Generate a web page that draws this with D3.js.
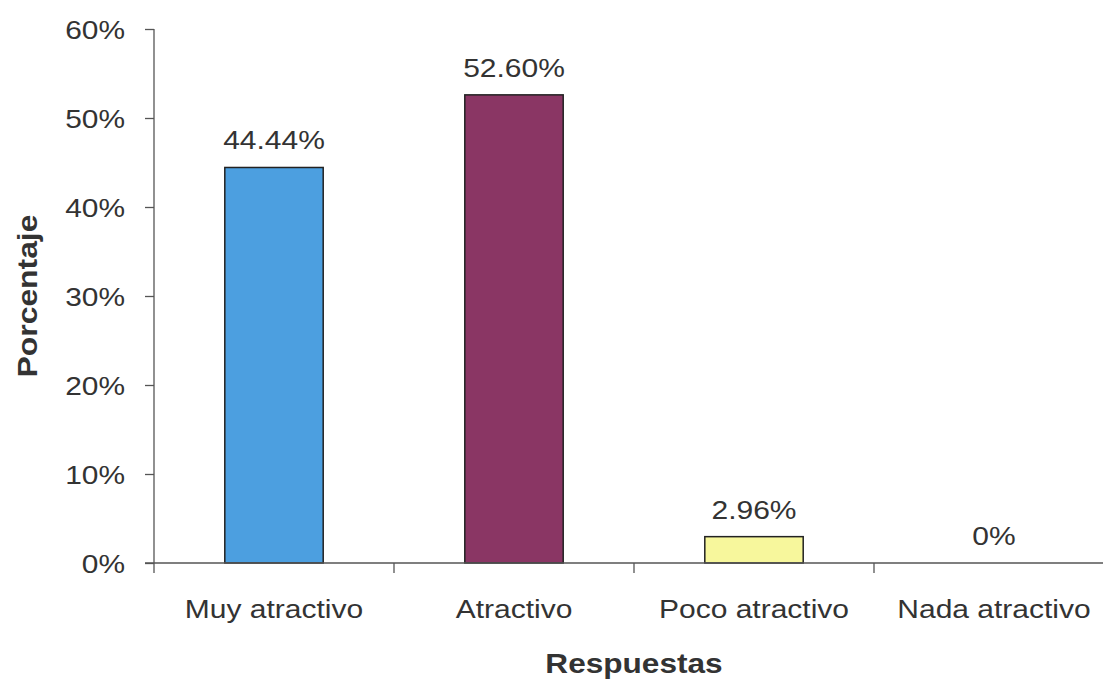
<!DOCTYPE html>
<html>
<head>
<meta charset="utf-8">
<script src="https://cdn.jsdelivr.net/npm/d3@7"></script>
<style>
  html, body { margin: 0; padding: 0; background: #fff; }
  svg { display: block; }
  text { font-family: "Liberation Sans", Arial, sans-serif; fill: #333; }
</style>
</head>
<body>
<svg id="chart" width="1103" height="680"></svg>
<script>
const categories = ["Muy atractivo", "Atractivo", "Poco atractivo", "Nada atractivo"];
const values = [0.4444, 0.5260, 0.0296, 0];
const valueLabels = ["44.44%", "52.60%", "2.96%", "0%"];
const barColors = ["#4c9fe0", "#8a3664", "#f7f79c", "#cccccc"];
const yTicks = [0, 0.1, 0.2, 0.3, 0.4, 0.5, 0.6];
const yTickLabels = ["0%", "10%", "20%", "30%", "40%", "50%", "60%"];
const xTitle = "Respuestas";
const yTitle = "Porcentaje";

(function () {
const svg = d3.select("#chart");
const mLeft = 154, mRight = 1114, mTop = 29, mBottom = 563;
const SX = 1.2; // horizontal text stretch

const y = d3.scaleLinear().domain([0, 0.6]).range([mBottom, mTop]);
const x = d3.scaleBand().domain(categories).range([mLeft, mRight]).padding(0);
const barW = x.bandwidth() * 0.41;

// bars
svg.append("g").selectAll("rect").data(categories).join("rect")
  .attr("x", d => x(d) + (x.bandwidth() - barW) / 2)
  .attr("y", (d, i) => y(values[i]))
  .attr("width", barW)
  .attr("height", (d, i) => y(0) - y(values[i]))
  .attr("fill", (d, i) => barColors[i])
  .attr("stroke", (d, i) => values[i] > 0 ? "#222" : "none")
  .attr("stroke-width", 1.5);

// value labels
svg.append("g").selectAll("text").data(categories).join("text")
  .attr("transform", (d, i) => `translate(${x(d) + x.bandwidth() / 2},${y(values[i]) - 18}) scale(${SX},1)`)
  .attr("text-anchor", "middle")
  .attr("font-size", 25)
  .text((d, i) => valueLabels[i]);

// y axis
const yAxis = svg.append("g").attr("transform", `translate(${mLeft},0)`)
  .call(d3.axisLeft(y).tickValues(yTicks).tickSize(9).tickPadding(0)
    .tickFormat((d, i) => yTickLabels[i]));
yAxis.select(".domain").attr("d", `M0,${mTop}V${mBottom + 10}`).attr("stroke", "#555").attr("stroke-width", 1.3);
yAxis.selectAll(".tick line").attr("stroke", "#555").attr("stroke-width", 1.3);
yAxis.selectAll(".tick text")
  .attr("x", null).attr("dy", null)
  .attr("transform", `translate(-29,9.5) scale(1.15,1)`)
  .attr("text-anchor", "end")
  .attr("font-size", 26)
  .attr("font-family", "Liberation Sans, Arial, sans-serif")
  .attr("fill", "#333");

// x axis
const xAxis = svg.append("g").attr("transform", `translate(0,${mBottom})`)
  .call(d3.axisBottom(x).tickSize(0).tickPadding(0));
xAxis.select(".domain").attr("d", `M${mLeft - 9},0H${mRight}`).attr("stroke", "#555").attr("stroke-width", 1.3);
xAxis.selectAll(".tick text")
  .attr("y", null).attr("dy", null)
  .attr("transform", `translate(0,55) scale(${SX},1)`)
  .attr("text-anchor", "middle")
  .attr("font-size", 25)
  .attr("font-family", "Liberation Sans, Arial, sans-serif")
  .attr("fill", "#333");
// category boundary ticks
const bounds = categories.slice(1).map(c => x(c));
xAxis.append("g").selectAll("line").data(bounds).join("line")
  .attr("x1", d => d).attr("x2", d => d).attr("y1", 0).attr("y2", 10)
  .attr("stroke", "#555").attr("stroke-width", 1.3);

// axis titles
svg.append("text")
  .attr("transform", `translate(${(mLeft + mRight) / 2},673) scale(1.17,1)`)
  .attr("text-anchor", "middle")
  .attr("font-size", 27).attr("font-weight", "bold")
  .text(xTitle);
svg.append("text")
  .attr("transform", `translate(37,${(mTop + mBottom) / 2}) rotate(-90) scale(1.18,1)`)
  .attr("text-anchor", "middle")
  .attr("font-size", 27).attr("font-weight", "bold")
  .text(yTitle);
})();
</script>
</body>
</html>
